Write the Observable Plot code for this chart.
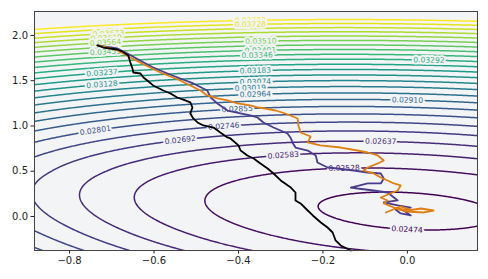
<!DOCTYPE html>
<html><head><meta charset="utf-8">
<script src="https://cdn.jsdelivr.net/npm/d3@7"></script>
<script src="https://cdn.jsdelivr.net/npm/@observablehq/plot@0.6"></script>
<style>body{margin:0;background:#fff;} #chart svg{display:block;}</style>
</head><body><div id="chart"></div>
<script>
const levels = [0.02474,0.02528,0.02583,0.02637,0.02692,0.02746,0.02801,0.02855,0.02910,0.02964,0.03019,0.03074,0.03128,0.03183,0.03237,0.03292,0.03346,0.03401,0.03455,0.03510,0.03564,0.03619,0.03673,0.03728,0.03782];

// Loss surface parameters (fitted to the reference contours)
const M = 0.02461, A = 0.0031, AS = 0.0004, B = 0.00295, Y0 = 0.06, XS = 0.15, XW = 0.6;
function loss(x, y) {
  const dy = y - Y0;
  const x0 = -XS * Math.tanh(dy / XW);
  const a = A - AS * Math.max(0, y - 0.5);
  return M + a * (x - x0) ** 2 + B * dy * dy;
}

// Contour label anchors
const labelLevel = [0.03782,0.03728,0.03673,0.03619,0.03564,0.03510,0.03455,0.03401,0.03346,0.03292,0.03237,0.03183,0.03128,0.03074,0.03019,0.02964,0.02910,0.02855,0.02801,0.02746,0.02692,0.02637,0.02583,0.02528,0.02474];
const labelX = [-0.372,-0.372,-0.708,-0.713,-0.715,-0.347,-0.715,-0.348,-0.356,0.051,-0.723,-0.360,-0.723,-0.360,-0.372,-0.360,0.000,-0.403,-0.739,-0.435,-0.538,-0.063,-0.294,-0.150,-0.001];
const labelY = [2.18,2.14,2.022,1.970,1.919,1.937,1.809,1.838,1.787,1.727,1.583,1.613,1.451,1.492,1.422,1.356,1.296,1.186,0.914,0.991,0.840,0.840,0.682,0.534,-0.155];

// Optimizer paths
const blackX = [-0.734,-0.720,-0.687,-0.675,-0.661,-0.656,-0.651,-0.649,-0.632,-0.625,-0.616,-0.602,-0.578,-0.561,-0.545,-0.526,-0.514,-0.509,-0.514,-0.507,-0.497,-0.483,-0.459,-0.443,-0.426,-0.419,-0.400,-0.395,-0.379,-0.364,-0.348,-0.331,-0.317,-0.300,-0.276,-0.265,-0.265,-0.253,-0.236,-0.224,-0.205,-0.189,-0.177,-0.170,-0.158,-0.134];
const blackY = [1.890,1.867,1.845,1.823,1.779,1.702,1.635,1.591,1.580,1.536,1.503,1.448,1.392,1.359,1.315,1.282,1.260,1.204,1.138,1.083,1.039,1.006,0.983,0.928,0.873,0.862,0.785,0.729,0.674,0.641,0.586,0.530,0.475,0.398,0.320,0.265,0.177,0.144,0.066,0.011,-0.066,-0.122,-0.177,-0.265,-0.320,-0.376];

const orangeX = [-0.734,-0.710,-0.687,-0.673,-0.656,-0.633,-0.609,-0.585,-0.561,-0.538,-0.514,-0.490,-0.474,-0.450,-0.426,-0.402,-0.372,-0.353,-0.336,-0.312,-0.289,-0.277,-0.260,-0.258,-0.253,-0.229,-0.236,-0.206,-0.158,-0.118,-0.094,-0.070,-0.056,-0.070,-0.094,-0.104,-0.080,-0.063,-0.047,-0.032,-0.016,-0.023,-0.040,-0.063,-0.047,-0.056,-0.032,0.001,0.032,0.062,0.039,-0.004,-0.028,-0.051,-0.016,0.008];
const orangeY = [1.890,1.867,1.834,1.801,1.757,1.702,1.646,1.591,1.547,1.503,1.448,1.392,1.337,1.304,1.282,1.249,1.227,1.204,1.193,1.171,1.138,1.116,1.083,1.006,0.928,0.884,0.818,0.785,0.762,0.729,0.707,0.674,0.619,0.586,0.541,0.508,0.475,0.431,0.398,0.365,0.343,0.287,0.254,0.210,0.177,0.144,0.099,0.066,0.088,0.066,0.044,0.055,0.088,0.044,0.110,0.077];

const purpleX = [-0.734,-0.687,-0.663,-0.633,-0.602,-0.568,-0.538,-0.507,-0.474,-0.466,-0.450,-0.426,-0.395,-0.372,-0.355,-0.341,-0.317,-0.284,-0.277,-0.272,-0.265,-0.236,-0.217,-0.213,-0.189,-0.165,-0.127,-0.094,-0.063,-0.056,-0.063,-0.094,-0.134,-0.118,-0.080,-0.047,-0.032,-0.023,-0.056,-0.023,0.008,-0.009,0.008,-0.016,-0.028];
const purpleY = [1.890,1.856,1.801,1.724,1.646,1.580,1.525,1.470,1.392,1.315,1.249,1.171,1.138,1.116,1.094,1.039,0.983,0.917,0.873,0.818,0.762,0.729,0.674,0.597,0.541,0.530,0.508,0.486,0.475,0.420,0.365,0.365,0.320,0.309,0.287,0.265,0.210,0.177,0.155,0.122,0.099,0.066,0.011,0.033,0.077];

const xTicks = [-0.8,-0.6,-0.4,-0.2,0.0];
const yTicks = [0.0,0.5,1.0,1.5,2.0];
const xDomain = [-0.883, 0.166], yDomain = [-0.376, 2.265];

const W = 488, H = 279, mL = 34, mR = 11, mT = 11, mB = 29;
const BG = "#f3f4f6";

const toPts = (xs, ys) => xs.map((x, i) => ({x, y: ys[i]}));

// place labels exactly on the drawn contour and orient them along it
const kx = (W - mL - mR) / (xDomain[1] - xDomain[0]);
const ky = (H - mT - mB) / (yDomain[1] - yDomain[0]);
const labels = labelLevel.map((lv, i) => {
  const x = labelX[i];
  let y = labelY[i];
  let lo = y - 0.12, hi = y + 0.12;
  const g = v => loss(x, v) - lv;
  if (g(lo) * g(hi) < 0) {
    for (let k = 0; k < 40; k++) { const mid = (lo + hi) / 2; if (g(lo) * g(mid) <= 0) hi = mid; else lo = mid; }
    y = (lo + hi) / 2;
  }
  const e = 1e-4;
  const fx = (loss(x + e, y) - loss(x - e, y)) / (2 * e);
  const fy = (loss(x, y + e) - loss(x, y - e)) / (2 * e);
  let ang = Math.atan2(ky * fx, kx * fy) * 180 / Math.PI;
  if (ang > 90) ang -= 180; if (ang < -90) ang += 180;
  return {x, y, level: lv, text: lv.toFixed(5), rotate: ang};
});

// sample the surface a little beyond the frame so no contour runs along the border
const pad = 0.1;
const chart = Plot.plot({
  width: W, height: H,
  marginLeft: mL, marginRight: mR, marginTop: mT, marginBottom: mB,
  style: {fontFamily: "DejaVu Sans", fontSize: "10px", color: "#222", background: "#fff"},
  x: {domain: xDomain},
  y: {domain: yDomain},
  color: {type: "linear", scheme: "viridis", domain: [levels[0], levels[levels.length - 1]]},
  marks: [
    Plot.frame({fill: BG, stroke: null}),
    Plot.contour({stroke: (x, y) => loss(x, y), thresholds: levels, strokeWidth: 1.5, pixelSize: 1, clip: true,
      x1: xDomain[0] - pad, x2: xDomain[1] + pad, y1: yDomain[0] - pad, y2: yDomain[1] + pad}),
    Plot.text(labels, {x: "x", y: "y", text: "text", fill: "level", rotate: "rotate", fontSize: 7.6,
      stroke: BG, strokeWidth: 4, paintOrder: "stroke", textAnchor: "middle", lineAnchor: "middle"}),
    Plot.line(toPts(purpleX, purpleY), {x: "x", y: "y", stroke: "#4b3c8f", strokeWidth: 1.8}),
    Plot.line(toPts(orangeX, orangeY), {x: "x", y: "y", stroke: "#e07f10", strokeWidth: 1.8}),
    Plot.line(toPts(blackX, blackY), {x: "x", y: "y", stroke: "#000", strokeWidth: 1.8}),
    Plot.axisX({ticks: xTicks, tickFormat: d3.format(".1f"), tickSize: 3.5, tickPadding: 3, label: null, fontSize: 10}),
    Plot.axisY({ticks: yTicks, tickFormat: d3.format(".1f"), tickSize: 3.5, tickPadding: 3, label: null, fontSize: 10}),
    Plot.frame({stroke: "#444", strokeWidth: 1})
  ]
});
document.getElementById("chart").appendChild(chart);
</script>
</body></html>
